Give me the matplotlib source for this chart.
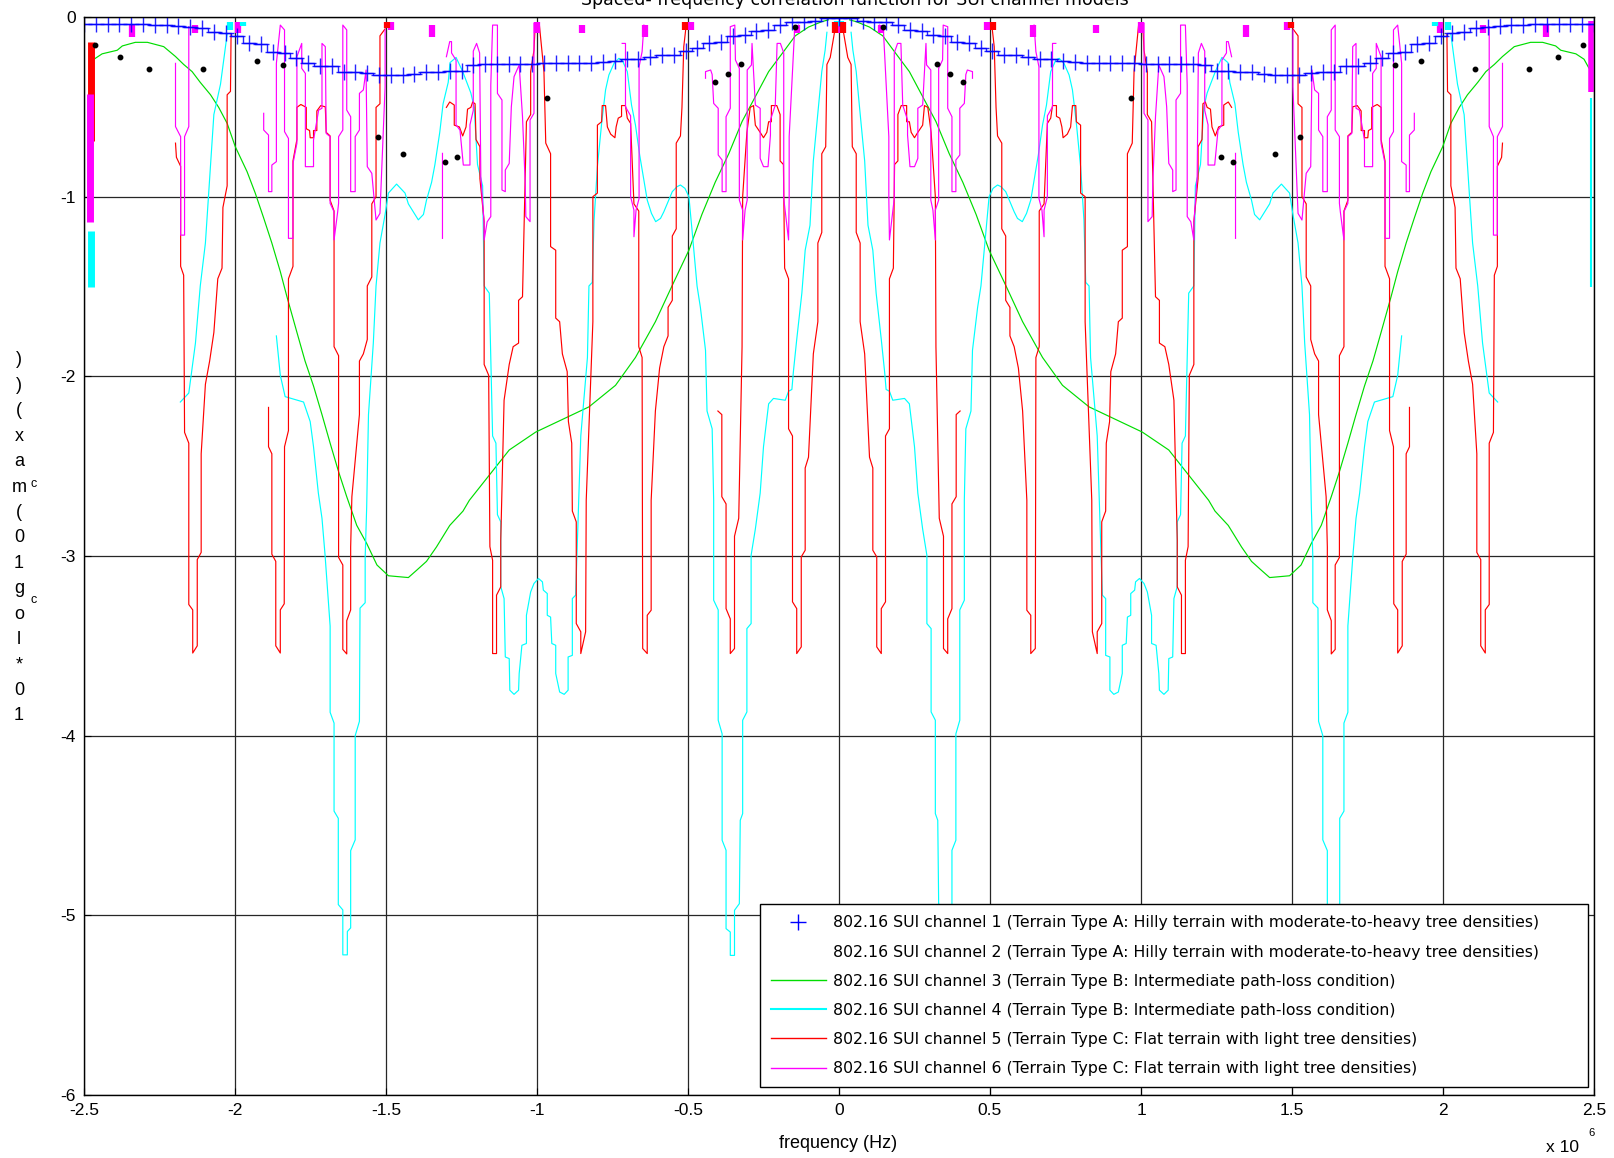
import numpy as np
import matplotlib
matplotlib.use("Agg")
import matplotlib.pyplot as plt
from matplotlib.lines import Line2D

plt.rcParams['font.family'] = ['Liberation Sans', 'DejaVu Sans']

nan = np.nan

# values for the negative half (f in MHz, curves are symmetric in f)
# channel 1 (blue +), sampled every 5/128 MHz from -2.5 to 0
blue_y = [-0.04, -0.04, -0.04, -0.04, -0.04, -0.04, -0.045, -0.045, -0.05, -0.056,
          -0.06, -0.085, -0.09, -0.105, -0.145, -0.15, -0.195, -0.2, -0.23, -0.258,
          -0.274, -0.275, -0.304, -0.305, -0.31, -0.324, -0.325, -0.325, -0.32, -0.305,
          -0.305, -0.3, -0.3, -0.265, -0.264, -0.264, -0.264, -0.262, -0.26, -0.255,
          -0.254, -0.254, -0.254, -0.254, -0.25, -0.245, -0.235, -0.235, -0.22, -0.209,
          -0.209, -0.19, -0.175, -0.145, -0.14, -0.105, -0.1, -0.076, -0.075, -0.046,
          -0.03, -0.026, -0.02, -0.006, -0.005]

# channel 2 (black dots)
dots_x = [-2.464, -2.381, -2.285, -2.106, -1.927, -1.842, -1.527, -1.445, -1.305, -1.264,
          -0.966, -0.409, -0.368, -0.325, -0.145]
dots_y = [-0.155, -0.221, -0.288, -0.288, -0.245, -0.268, -0.666, -0.761, -0.805, -0.781,
          -0.453, -0.36, -0.316, -0.264, -0.056]

# channel 3 (green)
green_x = [-2.483, -2.467, -2.44, -2.39, -2.373, -2.33, -2.29, -2.236, -2.197, -2.17,
           -2.142, -2.115, -2.081, -2.054, -2.026, -1.999, -1.96, -1.933, -1.905, -1.878,
           -1.85, -1.828, -1.795, -1.768, -1.74, -1.712, -1.685, -1.657, -1.63, -1.597,
           -1.564, -1.53, -1.492, -1.426, -1.399, -1.366, -1.333, -1.289, -1.245, -1.224,
           -1.158, -1.092, -1.004, -0.916, -0.828, -0.74, -0.674, -0.608, -0.553, -0.497,
           -0.454, -0.41, -0.365, -0.321, -0.277, -0.233, -0.189, -0.145, -0.101, -0.057,
           -0.035]
green_y = [-0.284, -0.235, -0.205, -0.185, -0.161, -0.141, -0.141, -0.165, -0.22, -0.264,
           -0.304, -0.364, -0.433, -0.503, -0.592, -0.722, -0.861, -0.98, -1.119, -1.258,
           -1.417, -1.557, -1.755, -1.915, -2.054, -2.213, -2.372, -2.531, -2.67, -2.829,
           -2.93, -3.05, -3.11, -3.12, -3.08, -3.03, -2.95, -2.83, -2.75, -2.69,
           -2.55, -2.41, -2.31, -2.24, -2.17, -2.05, -1.895, -1.696, -1.497, -1.298,
           -1.099, -0.92, -0.761, -0.582, -0.443, -0.304, -0.205, -0.105, -0.056, -0.026,
           -0.016]

# channel 4 (cyan), nan = break in the trace
cyan_x = [-2.181, -2.153, -2.131, -2.115, -2.098, -2.081, -2.07, -2.048, -2.026, nan,
          -1.863, -1.85, -1.834, -1.773, -1.751, -1.74, -1.724, -1.712, -1.702, -1.685,
          -1.685, -1.672, -1.672, -1.658, -1.658, -1.643, -1.643, -1.628, -1.628, -1.617,
          -1.617, -1.602, -1.602, -1.588, -1.586, -1.569, -1.569, -1.564, -1.558, -1.542,
          -1.533, -1.52, -1.503, -1.492, -1.465, -1.437, -1.426, -1.404, -1.393, -1.376,
          -1.366, -1.349, -1.338, -1.322, -1.311, -1.294, -1.288, -1.268, -1.246, -1.219,
          -1.208, -1.197, -1.18, -1.175, -1.158, -1.153, -1.147, -1.136, -1.131, -1.12,
          -1.12, -1.109, -1.105, -1.092, -1.09, -1.076, -1.061, -1.059, -1.05, -1.035,
          -1.035, -1.021, -1.01, -0.995, -0.982, -0.979, -0.966, -0.966, -0.955, -0.951,
          -0.938, -0.938, -0.925, -0.91, -0.897, -0.897, -0.883, -0.883, -0.872, -0.855,
          -0.833, -0.828, -0.817, -0.811, -0.8, -0.786, -0.773, -0.762, -0.745, -0.729,
          -0.718, -0.701, -0.687, -0.674, -0.66, -0.646, -0.635, -0.621, -0.607, -0.591,
          -0.58, -0.566, -0.552, -0.536, -0.525, -0.51, -0.497, -0.486, -0.47, -0.459,
          -0.442, -0.437, -0.42, -0.415, -0.415, -0.4, -0.4, -0.387, -0.387, -0.374,
          -0.374, -0.36, -0.36, -0.346, -0.346, -0.33, -0.327, -0.319, -0.319, -0.305,
          -0.305, -0.291, -0.291, -0.277, -0.261, -0.25, -0.233, -0.217, -0.178, -0.167,
          -0.156, -0.151, -0.14, -0.123, -0.112, -0.096, -0.085, -0.068, -0.057, -0.046,
          -0.04]
cyan_y = [-2.143, -2.093, -1.815, -1.497, -1.258, -0.821, -0.543, -0.374, -0.095, nan,
          -1.775, -1.994, -2.113, -2.143, -2.252, -2.392, -2.65, -2.79, -2.99, -3.39,
          -3.87, -3.93, -4.42, -4.46, -4.94, -4.97, -5.22, -5.22, -5.09, -5.07,
          -4.64, -4.58, -4.0, -3.92, -3.29, -3.26, -3.008, -2.73, -2.213, -1.815,
          -1.497, -1.258, -1.099, -0.98, -0.93, -0.98, -1.04, -1.099, -1.129, -1.099,
          -1.02, -0.92, -0.821, -0.642, -0.483, -0.364, -0.254, -0.225, -0.304, -0.423,
          -0.503, -0.821, -0.94, -1.497, -1.537, -1.895, -2.332, -2.372, -2.77, -2.81,
          -3.17, -3.237, -3.562, -3.571, -3.747, -3.77, -3.747, -3.654, -3.497, -3.487,
          -3.33, -3.2, -3.153, -3.125, -3.144, -3.19, -3.209, -3.33, -3.34, -3.487,
          -3.497, -3.654, -3.757, -3.77, -3.747, -3.562, -3.553, -3.237, -3.218, -2.332,
          -1.895, -1.497, -1.477, -1.13, -0.833, -0.592, -0.406, -0.323, -0.258, -0.23,
          -0.239, -0.304, -0.49, -0.601, -0.768, -0.907, -1.019, -1.093, -1.139, -1.121,
          -1.084, -1.028, -0.972, -0.944, -0.935, -0.954, -1.0, -1.199, -1.497, -1.616,
          -1.855, -2.193, -2.292, -2.69, -3.246, -3.3, -3.914, -3.99, -4.582, -4.638,
          -5.074, -5.093, -5.223, -5.223, -4.972, -4.935, -4.471, -4.434, -3.914, -3.868,
          -3.404, -3.376, -2.996, -2.85, -2.65, -2.392, -2.153, -2.123, -2.133, -2.083,
          -2.073, -1.974, -1.795, -1.537, -1.298, -1.159, -0.801, -0.503, -0.304, -0.185,
          -0.085]

# channel 5 (red)
red_x = [-2.197, -2.194, -2.18, -2.18, -2.17, -2.167, -2.153, -2.153, -2.14, -2.14,
         -2.125, -2.125, -2.112, -2.112, -2.098, -2.084, -2.07, -2.057, -2.043, -2.04,
         -2.026, -2.026, -2.015, -2.013, nan,
         -1.889, -1.889, -1.878, -1.878, -1.865, -1.865, -1.85, -1.85, -1.837, -1.836,
         -1.823, -1.823, -1.808, -1.808, -1.795, -1.795, -1.782, -1.764, -1.764, -1.753,
         -1.751, -1.74, -1.74, -1.729, -1.729, -1.716, -1.701, -1.698, -1.685, -1.685,
         -1.672, -1.672, -1.657, -1.657, -1.643, -1.643, -1.63, -1.63, -1.617, -1.617,
         -1.613, -1.588, -1.588, -1.575, -1.562, -1.562, -1.547, -1.547, -1.533, -1.533,
         -1.52, -1.52, -1.503, nan,
         -1.3, -1.289, -1.274, -1.274, -1.257, -1.246, -1.235, -1.23, -1.219, -1.213,
         -1.205, -1.202, -1.189, -1.189, -1.175, -1.175, -1.16, -1.156, -1.147, -1.147,
         -1.134, -1.134, -1.12, -1.12, -1.109, -1.092, -1.079, -1.061, -1.061, -1.048,
         -1.035, -1.021, -1.021, -1.01, -1.006, -0.992, -0.977, -0.971, -0.955, -0.955,
         -0.938, -0.938, -0.925, -0.916, -0.9, -0.896, -0.885, -0.883, -0.87, -0.87,
         -0.855, -0.855, -0.839, -0.837, -0.815, -0.815, -0.8, -0.8, -0.786, -0.784,
         -0.773, -0.767, -0.756, -0.742, -0.738, -0.731, -0.72, -0.72, -0.707, -0.701,
         -0.69, -0.679, -0.663, -0.663, -0.652, -0.65, -0.635, -0.635, -0.622, -0.622,
         -0.608, -0.594, -0.58, -0.566, -0.566, -0.552, -0.552, -0.539, -0.539, -0.525,
         -0.52, -0.514, -0.506, nan,
         -0.401, -0.388, -0.388, -0.374, -0.374, -0.36, -0.36, -0.346, -0.346, -0.332,
         -0.321, -0.319, -0.305, -0.294, -0.283, -0.277, -0.261, -0.25, -0.239, -0.233,
         -0.224, -0.224, -0.206, -0.195, -0.195, -0.184, -0.18, -0.167, -0.167, -0.154,
         -0.154, -0.14, -0.14, -0.125, -0.125, -0.112, -0.112, -0.101, -0.085, -0.07,
         -0.07, -0.057, -0.057, -0.044, -0.04, -0.029, -0.013]
red_y = [-0.702, -0.781, -0.831, -1.388, -1.437, -2.312, -2.372, -3.27, -3.3, -3.54,
         -3.5, -3.02, -2.98, -2.431, -2.044, -1.915, -1.756, -1.457, -1.398, -1.06,
         -0.94, -0.433, -0.414, -0.095, nan,
         -2.173, -2.392, -2.431, -2.99, -3.03, -3.5, -3.54, -3.3, -3.266, -2.392,
         -2.302, -1.457, -1.388, -0.801, -0.682, -0.503, -0.487, -0.503, -0.622, -0.632,
         -0.672, -0.672, -0.632, -0.632, -0.523, -0.493, -0.5, -0.642, -0.662, -1.02,
         -1.08, -1.835, -1.885, -3.008, -3.05, -3.52, -3.545, -3.36, -3.3, -2.95,
         -2.67, -2.213, -1.915, -1.875, -1.795, -1.497, -1.447, -1.04, -1.0, -0.503,
         -0.483, -0.105, -0.066, nan,
         -0.503, -0.473, -0.49, -0.602, -0.612, -0.662, -0.612, -0.513, -0.503, -0.473,
         -0.483, -0.682, -0.722, -0.9, -1.139, -1.934, -1.994, -2.948, -3.024, -3.543,
         -3.543, -3.218, -3.172, -2.912, -2.133, -1.934, -1.835, -1.815, -1.577, -1.557,
         -0.583, -0.543, -0.304, -0.185, -0.046, -0.046, -0.304, -0.702, -0.761, -1.278,
         -1.298, -1.676, -1.696, -1.875, -1.974, -2.252, -2.372, -2.75, -2.81, -3.376,
         -3.422, -3.543, -3.422, -2.69, -1.696, -1.0, -0.98, -0.602, -0.583, -0.493,
         -0.493, -0.612, -0.652, -0.672, -0.612, -0.563, -0.553, -0.493, -0.493, -0.563,
         -0.592, -1.04, -1.08, -1.835, -1.895, -3.515, -3.543, -3.33, -3.302, -2.69,
         -2.193, -1.954, -1.835, -1.775, -1.616, -1.577, -1.219, -1.179, -0.702, -0.662,
         -0.503, -0.165, -0.046, nan,
         -2.193, -2.213, -2.67, -2.71, -3.293, -3.35, -3.543, -3.515, -2.89, -2.79,
         -1.835, -1.0, -0.642, -0.503, -0.493, -0.602, -0.642, -0.672, -0.642, -0.583,
         -0.583, -0.493, -0.493, -0.543, -0.801, -0.821, -1.398, -1.457, -2.292, -2.332,
         -3.255, -3.293, -3.543, -3.506, -3.005, -2.968, -2.51, -2.45, -1.875, -1.696,
         -1.258, -1.199, -0.761, -0.722, -0.264, -0.225, -0.066]

# channel 6 (magenta)
mag_x = [-2.197, -2.197, -2.18, -2.18, -2.167, -2.167, -2.153, -2.153, nan,
         -1.905, -1.905, -1.889, -1.889, -1.878, -1.878, -1.863, -1.863, -1.85, -1.836,
         -1.836, -1.823, -1.823, -1.808, -1.808, -1.795, -1.795, -1.779, -1.779, -1.767,
         -1.767, -1.74, -1.74, -1.723, -1.712, -1.712, -1.701, -1.698, -1.685, -1.685,
         -1.672, -1.672, -1.66, -1.657, -1.657, -1.643, -1.643, -1.63, -1.63, -1.617,
         -1.617, -1.602, -1.602, -1.588, -1.588, -1.575, -1.566, -1.562, -1.547, -1.533,
         -1.52, -1.503, -1.503, nan,
         -1.313, -1.313, nan,
         -1.3, -1.289, -1.283, -1.283, -1.268, -1.268, -1.255, -1.244, -1.222, -1.222,
         -1.211, -1.211, -1.2, -1.19, -1.186, -1.175, -1.175, -1.165, -1.153, -1.153,
         -1.147, -1.131, -1.131, -1.116, -1.116, -1.105, -1.105, -1.092, -1.085, -1.076,
         -1.059, -1.048, -1.039, -1.037, -1.023, -1.023, -1.01, -1.01, nan,
         -0.718, -0.707, -0.707, -0.69, -0.69, -0.679, -0.679, -0.672, -0.662, -0.662,
         -0.652, -0.646, nan,
         -0.442, -0.442, -0.425, -0.42, -0.415, -0.4, -0.4, -0.387, -0.387, -0.374,
         -0.374, -0.36, -0.36, -0.345, -0.343, -0.33, -0.33, -0.319, -0.319, -0.311,
         -0.304, -0.304, -0.29, -0.288, -0.277, -0.261, -0.261, -0.25, -0.235, -0.227,
         -0.227, -0.211, -0.205, -0.194, -0.183, -0.183, -0.167, -0.165, -0.165, -0.147,
         -0.134]
mag_y = [-0.258, -0.61, -0.666, -1.214, -1.214, -0.666, -0.61, -0.054, nan,
         -0.536, -0.629, -0.657, -0.972, -0.972, -0.824, -0.805, -0.258, -0.045, -0.072,
         -0.638, -0.676, -1.232, -1.232, -0.815, -0.703, -0.221, -0.147, -0.286, -0.314,
         -0.833, -0.833, -0.685, -0.518, -0.508, -0.147, -0.165, -0.648, -0.666, -1.037,
         -1.084, -1.241, -1.084, -1.037, -0.666, -0.629, -0.045, -0.072, -0.518, -0.555,
         -0.972, -0.972, -0.666, -0.629, -0.425, -0.406, -0.295, -0.833, -0.87, -1.13,
         -1.093, -0.388, -0.072, nan,
         -0.759, -1.232, nan,
         -0.221, -0.137, -0.137, -0.2, -0.24, -0.6, -0.63, -0.824, -0.824, -0.6,
         -0.52, -0.19, -0.147, -0.2, -0.889, -1.149, -1.241, -1.14, -1.111, -0.379,
         -0.045, -0.045, -0.425, -0.462, -0.963, -0.972, -0.852, -0.815, -0.5, -0.332,
         -0.267, -0.555, -0.926, -1.111, -1.139, -0.573, -0.536, -0.035, nan,
         -0.147, -0.147, -0.5, -0.55, -1.0, -1.075, -1.223, -1.075, -1.01, -0.277,
         -0.193, -0.045, nan,
         -0.341, -0.304, -0.295, -0.32, -0.481, -0.508, -0.768, -0.796, -0.972, -0.972,
         -0.555, -0.508, -0.054, -0.045, -0.239, -0.286, -1.019, -1.075, -1.241, -1.075,
         -1.019, -0.295, -0.267, -0.147, -0.49, -0.508, -0.787, -0.833, -0.833, -0.657,
         -0.573, -0.49, -0.147, -0.147, -0.2, -1.01, -1.241, -1.01, -0.666, -0.072,
         -0.045]

# little filled blocks along the top edge (negative half)
mag_blk_x = [-2.34, -2.133, -1.99, -1.484, -1.347, -0.999, -0.852, -0.644, -0.489, -0.14, 0.0]
mag_blk_top = [-0.045, -0.045, -0.026, -0.026, -0.045, -0.026, -0.045, -0.045, -0.026, -0.045, -0.026]
mag_blk_bot = [-0.11, -0.091, -0.091, -0.072, -0.11, -0.091, -0.091, -0.11, -0.072, -0.091, -0.091]
cyan_blk_x = [-2.015, -1.975, -0.005]
cyan_blk_top = [-0.026, -0.026, -0.02]
cyan_blk_bot = [-0.07, -0.05, -0.05]
red_blk_x = [-1.496, -0.51, 0.012]
red_blk_top = [-0.026, -0.026, -0.026]
red_blk_bot = [-0.06, -0.072, -0.091]

# thick bars at the plot edges
edge_x = [-2.476, -2.48, -2.478, 2.49, 2.491]
edge_top = [-0.14, -0.43, -1.19, -0.02, -0.45]
edge_bot = [-0.69, -1.14, -1.5, -0.42, -1.5]
edge_col = ['#ff0000', '#ff00ff', '#00ffff', '#ff00ff', '#00ffff']
edge_w = [5, 5, 5, 4, 1.5]

xticks = [-2.5, -2, -1.5, -1, -0.5, 0, 0.5, 1, 1.5, 2, 2.5]
xtick_labels = ['-2.5', '-2', '-1.5', '-1', '-0.5', '0', '0.5', '1', '1.5', '2', '2.5']
yticks = [0, -1, -2, -3, -4, -5, -6]
ytick_labels = ['0', '-1', '-2', '-3', '-4', '-5', '-6']

labels = ['802.16 SUI channel 1 (Terrain Type A: Hilly terrain with moderate-to-heavy tree densities)',
          '802.16 SUI channel 2 (Terrain Type A: Hilly terrain with moderate-to-heavy tree densities)',
          '802.16 SUI channel 3 (Terrain Type B: Intermediate path-loss condition)',
          '802.16 SUI channel 4 (Terrain Type B: Intermediate path-loss condition)',
          '802.16 SUI channel 5 (Terrain Type C: Flat terrain with light tree densities)',
          '802.16 SUI channel 6 (Terrain Type C: Flat terrain with light tree densities)']
title = 'Spaced- frequency correlation function for SUI channel models'
ylabel_chars = [')', ')', '(', 'x', 'a', 'm', '(', '0', '1', 'g', 'o', 'l', '*', '0', '1']


def mirror(x, y):
    # both halves of a symmetric trace
    x = np.asarray(x, float)
    y = np.asarray(y, float)
    return np.concatenate([x, [nan], -x[::-1]]), np.concatenate([y, [nan], y[::-1]])


fig = plt.figure(figsize=(16.14, 11.58), dpi=100)
ax = fig.add_axes([84 / 1614, 1 - 1095 / 1158, 1510 / 1614, 1078 / 1158])

lw = 0.85
gx, gy = mirror(green_x, green_y)
ax.plot(gx, gy, color='#00dd00', lw=lw)
cx, cy = mirror(cyan_x, cyan_y)
ax.plot(cx, cy, color='#00ffff', lw=lw)
rx, ry = mirror(red_x, red_y)
ax.plot(rx, ry, color='#ff0000', lw=lw)
mx, my = mirror(mag_x, mag_y)
ax.plot(mx, my, color='#ff00ff', lw=lw)

# top edge blocks
for bx, bt, bb, col in [(mag_blk_x, mag_blk_top, mag_blk_bot, '#ff00ff'),
                        (cyan_blk_x, cyan_blk_top, cyan_blk_bot, '#00ffff'),
                        (red_blk_x, red_blk_top, red_blk_bot, '#ff0000')]:
    bx = np.asarray(bx)
    ax.vlines(np.concatenate([bx, -bx]), bb + bb, bt + bt, color=col, lw=4.5)
for x0, t, b, c, w in zip(edge_x, edge_top, edge_bot, edge_col, edge_w):
    ax.vlines(x0, b, t, color=c, lw=w)

# channel 1
k = np.arange(len(blue_y))
bxl = -2.5 + k * 5 / 128
bx = np.concatenate([bxl, -bxl[::-1][1:]])
by = np.concatenate([blue_y, blue_y[::-1][1:]])
ax.plot(bx, by, color='#0000ff', lw=1.0, marker='+', ms=12, mew=1.0,
        drawstyle='steps-mid', alpha=0.85)

# channel 2
dx, dy = mirror(dots_x, dots_y)
ax.plot(dx, dy, ls='none', marker='o', ms=3.2, color='k')

ax.set_xlim(-2.5, 2.5)
ax.set_ylim(-6, 0)
ax.set_xticks(xticks)
ax.set_xticklabels(xtick_labels)
ax.set_yticks(yticks)
ax.set_yticklabels(ytick_labels)
ax.tick_params(direction='in', length=5, labelsize=12.5, pad=6, colors='k')
ax.grid(True, color='0.15', lw=0.9)
for s in ax.spines.values():
    s.set_linewidth(1.0)

handles = [Line2D([], [], color='#0000ff', marker='+', ls='none', ms=12),
           Line2D([], [], color='white'),
           Line2D([], [], color='#00dd00', lw=1),
           Line2D([], [], color='#00ffff', lw=1.5),
           Line2D([], [], color='#ff0000', lw=1),
           Line2D([], [], color='#ff00ff', lw=1)]
leg = ax.legend(handles, labels, loc='lower left', mode='expand',
                bbox_to_anchor=(760 / 1614, 1 - 1087 / 1158, 828 / 1614, 183 / 1158),
                bbox_transform=fig.transFigure,
                borderaxespad=0, fancybox=False, framealpha=1, edgecolor='k',
                prop=dict(family='DejaVu Sans', size=11.3), handlelength=3.5,
                handletextpad=0.45, labelspacing=0.9, borderpad=0.7)
leg.get_frame().set_linewidth(1.0)

fig.text(855 / 1614, 1 - 5 / 1158, title, ha='center', va='baseline',
         fontsize=12.5, family='DejaVu Sans')
fig.text(838 / 1614, 1 - 1144 / 1158, 'frequency (Hz)', ha='center', va='center', fontsize=13)
fig.text(1546 / 1614, 1 - 1148 / 1158, 'x 10', ha='left', va='center', fontsize=12.5)
fig.text(1588 / 1614, 1 - 1133 / 1158, '6', ha='left', va='center', fontsize=8)

# rotated label came out as a column of glyphs in the original
step = (716 - 360) / (len(ylabel_chars) - 1)
for i, ch in enumerate(ylabel_chars):
    fig.text(19 / 1614, 1 - (360 + i * step) / 1158, ch, ha='center', va='center', fontsize=13)
fig.text(34 / 1614, 1 - 484 / 1158, 'c', ha='center', va='center', fontsize=9)
fig.text(34 / 1614, 1 - 600 / 1158, 'c', ha='center', va='center', fontsize=9)

fig.savefig('out.png', dpi=100)
